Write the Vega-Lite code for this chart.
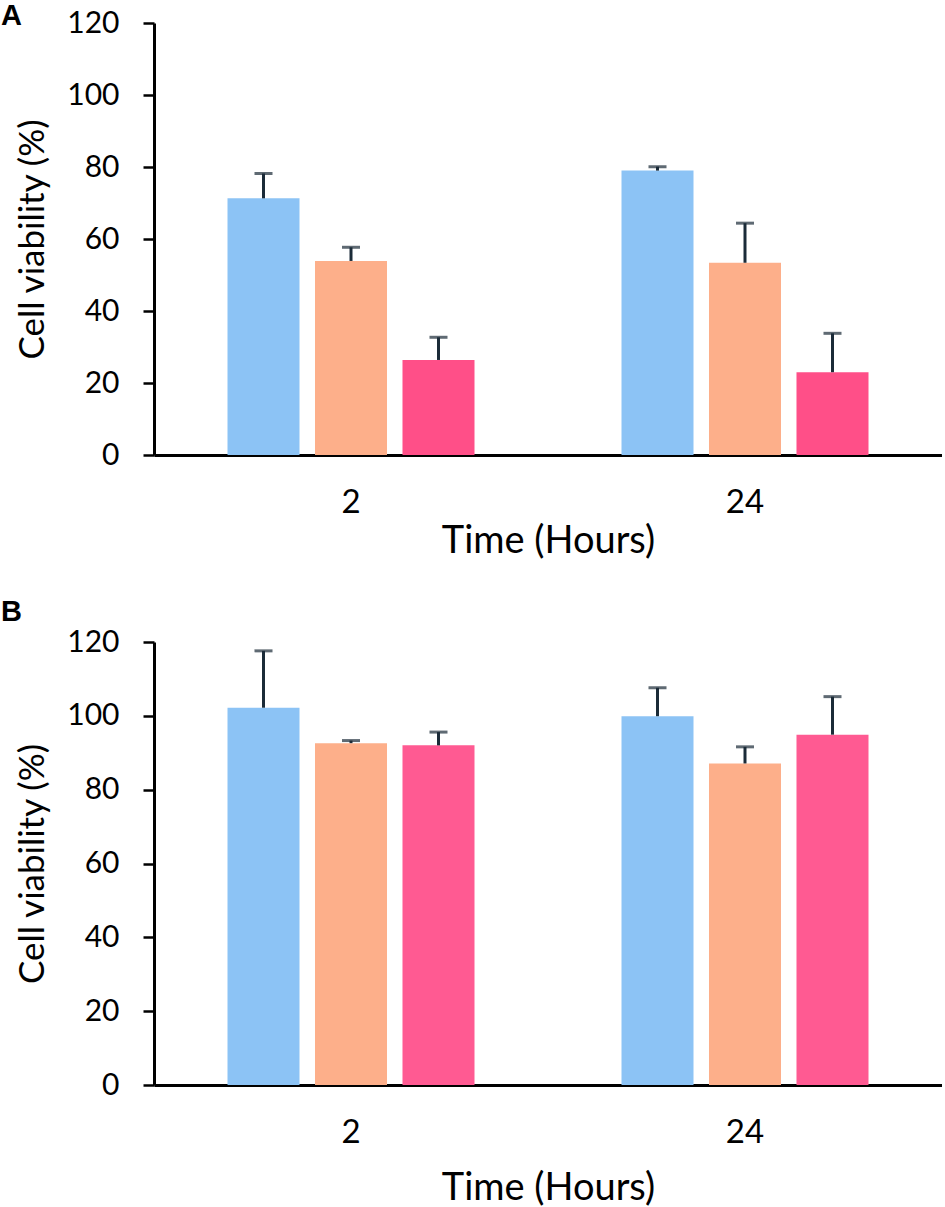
{
  "$schema": "https://vega.github.io/schema/vega-lite/v6.json",
  "autosize": {"type": "pad"},
  "padding": {"left": 1, "top": 2, "right": 0, "bottom": 0},
  "background": "white",
  "bounds": "flush",
  "spacing": 187,
  "config": {
    "view": {"stroke": null},
    "font": "Lato",
    "axis": {
      "grid": false,
      "zindex": 1,
      "domainColor": "black",
      "domainWidth": 3,
      "labelColor": "black",
      "labelFont": "Lato",
      "titleColor": "black",
      "titleFont": "Lato",
      "titleFontWeight": "normal"
    },
    "axisY": {
      "tickColor": "black",
      "tickWidth": 2.5,
      "tickSize": 11,
      "labelFontSize": 30,
      "labelPadding": 24,
      "titleFontSize": 35,
      "titlePadding": 16
    },
    "axisX": {
      "ticks": false,
      "tickSize": 0,
      "labelAngle": 0,
      "labelFontSize": 33,
      "labelPadding": 31,
      "titleFontSize": 38
    },
    "title": {
      "font": "Liberation Sans",
      "fontSize": 29,
      "fontWeight": "bold",
      "color": "black",
      "anchor": "start",
      "frame": "group"
    }
  },
  "datasets": {
    "panelA": [
      {"time": "2", "group": "g1", "mean": 71.3, "upper": 78.2},
      {"time": "2", "group": "g2", "mean": 53.9, "upper": 57.7},
      {"time": "2", "group": "g3", "mean": 26.4, "upper": 32.7},
      {"time": "24", "group": "g1", "mean": 79.0, "upper": 80.1},
      {"time": "24", "group": "g2", "mean": 53.4, "upper": 64.4},
      {"time": "24", "group": "g3", "mean": 23.0, "upper": 33.8}
    ],
    "panelB": [
      {"time": "2", "group": "g1", "mean": 102.2, "upper": 117.6},
      {"time": "2", "group": "g2", "mean": 92.6, "upper": 93.3},
      {"time": "2", "group": "g3", "mean": 92.0, "upper": 95.6},
      {"time": "24", "group": "g1", "mean": 99.9, "upper": 107.6},
      {"time": "24", "group": "g2", "mean": 87.1, "upper": 91.6},
      {"time": "24", "group": "g3", "mean": 94.9, "upper": 105.2}
    ]
  },
  "vconcat": [
    {
      "width": 788,
      "height": 432,
      "title": {"text": "A", "dx": -153, "dy": 27},
      "data": {"name": "panelA"},
      "encoding": {
        "x": {
          "field": "time",
          "type": "ordinal",
          "scale": {"paddingInner": 0, "paddingOuter": 0},
          "axis": {"title": "Time (Hours)", "titlePadding": 3}
        },
        "xOffset": {
          "field": "group",
          "type": "nominal",
          "scale": {"paddingInner": 0.177, "paddingOuter": 0.84}
        }
      },
      "layer": [
        {
          "mark": {"type": "bar"},
          "encoding": {
            "y": {
              "field": "mean",
              "type": "quantitative",
              "scale": {"domain": [0, 120], "nice": false},
              "axis": {"values": [0, 20, 40, 60, 80, 100, 120], "title": "Cell viability (%)"}
            },
            "color": {
              "field": "group",
              "type": "nominal",
              "scale": {"range": ["#8CC3F5", "#FDAF8A", "#FF4F88"]},
              "legend": null
            }
          }
        },
        {
          "mark": {"type": "rule", "color": "#1B2B38", "strokeWidth": 3},
          "encoding": {
            "y": {"field": "mean", "type": "quantitative"},
            "y2": {"field": "upper"}
          }
        },
        {
          "mark": {"type": "tick", "color": "#1B2B38", "thickness": 3, "size": 18, "orient": "horizontal"},
          "encoding": {
            "y": {"field": "upper", "type": "quantitative"}
          }
        }
      ]
    },
    {
      "width": 788,
      "height": 443,
      "title": {"text": "B", "dx": -153, "dy": 4},
      "data": {"name": "panelB"},
      "encoding": {
        "x": {
          "field": "time",
          "type": "ordinal",
          "scale": {"paddingInner": 0, "paddingOuter": 0},
          "axis": {"title": "Time (Hours)", "titlePadding": 20}
        },
        "xOffset": {
          "field": "group",
          "type": "nominal",
          "scale": {"paddingInner": 0.177, "paddingOuter": 0.84}
        }
      },
      "layer": [
        {
          "mark": {"type": "bar"},
          "encoding": {
            "y": {
              "field": "mean",
              "type": "quantitative",
              "scale": {"domain": [0, 120], "nice": false},
              "axis": {"values": [0, 20, 40, 60, 80, 100, 120], "title": "Cell viability (%)"}
            },
            "color": {
              "field": "group",
              "type": "nominal",
              "scale": {"range": ["#8CC3F5", "#FDAF8A", "#FF5A92"]},
              "legend": null
            }
          }
        },
        {
          "mark": {"type": "rule", "color": "#1B2B38", "strokeWidth": 3},
          "encoding": {
            "y": {"field": "mean", "type": "quantitative"},
            "y2": {"field": "upper"}
          }
        },
        {
          "mark": {"type": "tick", "color": "#1B2B38", "thickness": 3, "size": 18, "orient": "horizontal"},
          "encoding": {
            "y": {"field": "upper", "type": "quantitative"}
          }
        }
      ]
    }
  ],
  "resolve": {"scale": {"color": "independent"}}
}
